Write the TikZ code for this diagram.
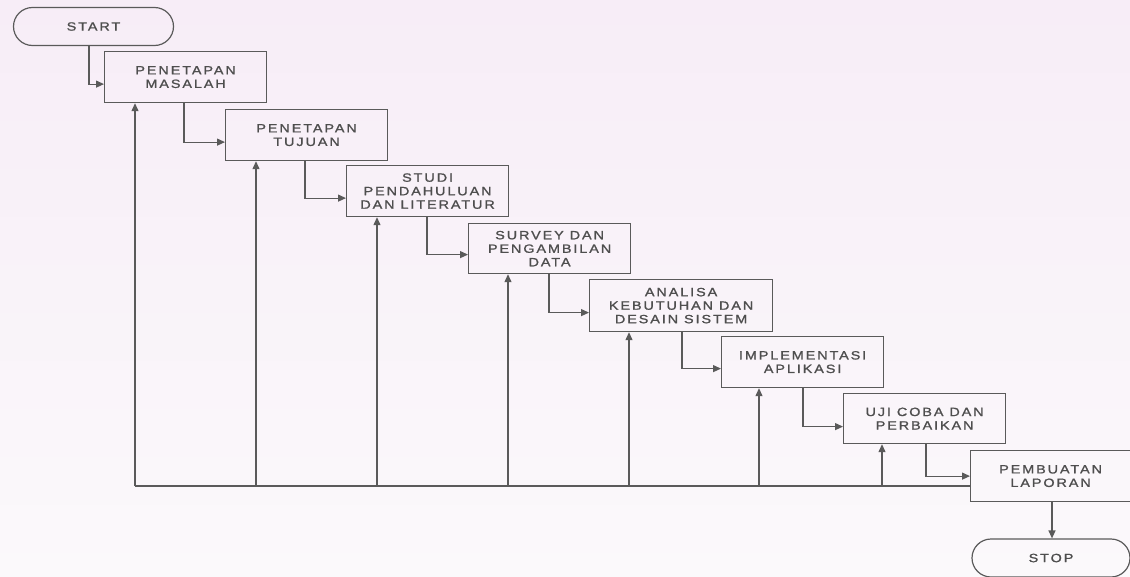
\documentclass[tikz,border=0pt]{standalone}
\usepackage{fontspec}
\newfontfamily\flowfont[FakeStretch=1.2,LetterSpace=16,FakeBold=1.2]{Liberation Sans}
\usetikzlibrary{arrows.meta}
\definecolor{paperTop}{RGB}{247,237,247}
\definecolor{paperBottom}{RGB}{251,249,251}
\definecolor{inkline}{RGB}{90,90,90}
\definecolor{inktext}{RGB}{78,78,78}
\tikzset{
  stage/.style={draw=inkline, line width=1.2pt, rectangle, anchor=north west,
    minimum width=162pt, minimum height=51pt, inner sep=0pt, align=center,
    text=inktext, font=\flowfont\fontsize{12}{13.5}\selectfont},
  terminal/.style={draw=inkline, line width=1.2pt, rectangle, rounded corners=19pt,
    minimum width=160pt, minimum height=38pt, inner sep=0pt,
    text=inktext, font=\flowfont\fontsize{12}{13.5}\selectfont},
  flow/.style={draw=inkline, line width=1.2pt,
    -{Triangle[length=8pt,width=7pt]}},
  plainline/.style={draw=inkline, line width=1.2pt},
}
\begin{document}
\begin{tikzpicture}[x=1pt,y=-1pt]
  \shade[top color=paperTop, bottom color=paperBottom] (0,0) rectangle (1130,576);
  \useasboundingbox (0,0) rectangle (1130,576);

  % terminals
  \node[terminal] (start) at (93.5,26.5) {START};
  \node[terminal, minimum width=158pt] (stop) at (1051,558) {STOP};

  % process stages
  \node[stage] (s1) at (104,51)  {PENETAPAN\\MASALAH};
  \node[stage] (s2) at (225,109) {PENETAPAN\\TUJUAN};
  \node[stage] (s3) at (346,165) {STUDI\\PENDAHULUAN\\DAN LITERATUR};
  \node[stage, minimum height=50pt] (s4) at (468,223) {SURVEY DAN\\PENGAMBILAN\\DATA};
  \node[stage, minimum width=183pt, minimum height=52pt] (s5) at (589,279) {ANALISA\\KEBUTUHAN DAN\\DESAIN SISTEM};
  \node[stage] (s6) at (721,336) {IMPLEMENTASI\\APLIKASI};
  \node[stage, minimum height=50pt] (s7) at (843,393) {UJI COBA DAN\\PERBAIKAN};
  \node[stage, minimum width=160pt] (s8) at (970,450) {PEMBUATAN\\LAPORAN};

  % forward flow
  \draw[flow] ([xshift=-4.5pt]start.south) |- ([yshift=-7pt]s1.west);
  \draw[flow] ([xshift=80pt]s1.south west) |- ([yshift=-7pt]s2.west);
  \draw[flow] ([xshift=80pt]s2.south west) |- ([yshift=-7pt]s3.west);
  \draw[flow] ([xshift=81pt]s3.south west) |- ([yshift=-6pt]s4.west);
  \draw[flow] ([xshift=81pt]s4.south west) |- ([yshift=-7pt]s5.west);
  \draw[flow] ([xshift=93pt]s5.south west) |- ([yshift=-6.5pt]s6.west);
  \draw[flow] ([xshift=82pt]s6.south west) |- ([yshift=-8pt]s7.west);
  \draw[flow] ([xshift=83pt]s7.south west) |- (s8.west);
  \draw[flow] ([xshift=82pt]s8.south west) -- ([xshift=82pt]s8.south west |- stop.north);

  % feedback bus along the bottom
  \coordinate (bus) at (135,486);
  \draw[plainline] (bus) -- (bus -| s8.west);
  \draw[flow] (bus) -- ([xshift=31pt]s1.south west);
  \draw[flow] ([xshift=31pt]s2.south west |- bus) -- ([xshift=31pt]s2.south west);
  \draw[flow] ([xshift=31pt]s3.south west |- bus) -- ([xshift=31pt]s3.south west);
  \draw[flow] ([xshift=40pt]s4.south west |- bus) -- ([xshift=40pt]s4.south west);
  \draw[flow] ([xshift=40pt]s5.south west |- bus) -- ([xshift=40pt]s5.south west);
  \draw[flow] ([xshift=38pt]s6.south west |- bus) -- ([xshift=38pt]s6.south west);
  \draw[flow] ([xshift=39pt]s7.south west |- bus) -- ([xshift=39pt]s7.south west);
\end{tikzpicture}
\end{document}
